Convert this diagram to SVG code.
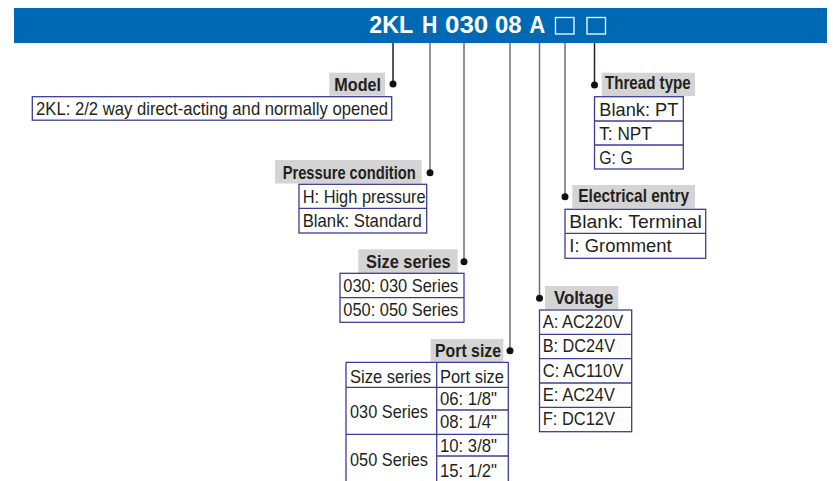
<svg xmlns="http://www.w3.org/2000/svg" width="833" height="481" viewBox="0 0 833 481">
<style>
.banner{fill:#0069b4}
.code{font-family:"Liberation Sans",Arial,sans-serif;font-weight:bold;font-size:23px;fill:#ffffff}
.lbl{fill:#d4d4d4}
.lt{font-family:"Liberation Sans",Arial,sans-serif;font-weight:bold;font-size:18.5px;fill:#231f20}
.vt{font-family:"Liberation Sans",Arial,sans-serif;font-size:19px;fill:#231f20}
.box{fill:#ffffff;stroke:#3c3c96;stroke-width:1.3}
.div{stroke:#3c3c96;stroke-width:1.3}
.ln{stroke:#6e6e6e;stroke-width:1.5;fill:none}
.lnd{stroke:#231f20;stroke-width:1.5;fill:none}
.dot{fill:#111111}
</style>
<rect class="banner" x="14" y="8" width="813" height="35"/>
<g id="code">
<text class="code" x="369.3" y="33" textLength="44" lengthAdjust="spacingAndGlyphs">2KL</text>
<text class="code" x="422" y="33" textLength="15.3" lengthAdjust="spacingAndGlyphs">H</text>
<text class="code" x="445" y="33" textLength="43.3" lengthAdjust="spacingAndGlyphs">030</text>
<text class="code" x="495" y="33" textLength="26.7" lengthAdjust="spacingAndGlyphs">08</text>
<text class="code" x="529.3" y="33" textLength="16" lengthAdjust="spacingAndGlyphs">A</text>
<rect x="555.5" y="17.5" width="18.5" height="16.5" fill="none" stroke="#ffffff" stroke-width="1.3"/>
<rect x="587" y="17.5" width="18.5" height="16.5" fill="none" stroke="#ffffff" stroke-width="1.3"/>
</g>
<g id="connectors">
<line class="lnd" x1="393" y1="43" x2="393" y2="84"/>
<circle class="dot" cx="393" cy="84" r="3.5"/>
<line class="ln" x1="430" y1="43" x2="430" y2="172.7"/>
<circle class="dot" cx="430" cy="172.7" r="3.5"/>
<line class="ln" x1="464" y1="43" x2="464" y2="261.7"/>
<circle class="dot" cx="464" cy="261.7" r="3.5"/>
<line class="ln" x1="510" y1="43" x2="510" y2="350.7"/>
<circle class="dot" cx="510" cy="350.7" r="3.5"/>
<line class="ln" x1="539.5" y1="43" x2="539.5" y2="298.3"/>
<circle class="dot" cx="539.5" cy="298.3" r="3.5"/>
<line class="ln" x1="565" y1="43" x2="565" y2="196.7"/>
<circle class="dot" cx="565" cy="196.7" r="3.5"/>
<line class="lnd" x1="594.5" y1="43" x2="594.5" y2="85"/>
<circle class="dot" cx="594.5" cy="85" r="3.5"/>
</g>
<g id="model">
<rect class="lbl" x="329.3" y="72.7" width="55.7" height="23"/>
<text class="lt" x="334.3" y="91" textLength="46.7" lengthAdjust="spacingAndGlyphs">Model</text>
<rect class="box" x="32.3" y="96.7" width="359.4" height="23.5"/>
<text class="vt" x="36" y="115" textLength="352" lengthAdjust="spacingAndGlyphs">2KL: 2/2 way direct-acting and normally opened</text>
</g>
<g id="pressure">
<rect class="lbl" x="275" y="160" width="146.7" height="23.5"/>
<text class="lt" x="282.7" y="179.3" textLength="133" lengthAdjust="spacingAndGlyphs">Pressure condition</text>
<rect class="box" x="299" y="184.3" width="127.7" height="48.7"/>
<line class="div" x1="299" y1="208.3" x2="426.7" y2="208.3"/>
<text class="vt" x="302.7" y="203.3" textLength="123" lengthAdjust="spacingAndGlyphs">H: High pressure</text>
<text class="vt" x="302.7" y="227" textLength="119" lengthAdjust="spacingAndGlyphs">Blank: Standard</text>
</g>
<g id="size">
<rect class="lbl" x="358.3" y="249.3" width="99.4" height="24"/>
<text class="lt" x="366" y="268.3" textLength="84.7" lengthAdjust="spacingAndGlyphs">Size series</text>
<rect class="box" x="340" y="273.3" width="124" height="49"/>
<line class="div" x1="340" y1="297.7" x2="464" y2="297.7"/>
<text class="vt" x="343.3" y="291.5" textLength="115" lengthAdjust="spacingAndGlyphs">030: 030 Series</text>
<text class="vt" x="343.3" y="316" textLength="115" lengthAdjust="spacingAndGlyphs">050: 050 Series</text>
</g>
<g id="port">
<rect class="lbl" x="430.7" y="339" width="72.6" height="23"/>
<text class="lt" x="435" y="357" textLength="66" lengthAdjust="spacingAndGlyphs">Port size</text>
<line class="div" x1="346" y1="362.3" x2="508.3" y2="362.3"/>
<line class="div" x1="346" y1="362.3" x2="346" y2="481"/>
<line class="div" x1="436.7" y1="362.3" x2="436.7" y2="481"/>
<line class="div" x1="508.3" y1="362.3" x2="508.3" y2="481"/>
<line class="div" x1="346" y1="387.3" x2="508.3" y2="387.3"/>
<line class="div" x1="436.7" y1="410" x2="508.3" y2="410"/>
<line class="div" x1="346" y1="434.3" x2="508.3" y2="434.3"/>
<line class="div" x1="436.7" y1="456" x2="508.3" y2="456"/>
<text class="vt" x="350" y="382.5" textLength="81" lengthAdjust="spacingAndGlyphs">Size series</text>
<text class="vt" x="440" y="382.5" textLength="64" lengthAdjust="spacingAndGlyphs">Port size</text>
<text class="vt" x="350" y="418" textLength="78" lengthAdjust="spacingAndGlyphs">030 Series</text>
<text class="vt" x="350" y="466" textLength="78" lengthAdjust="spacingAndGlyphs">050 Series</text>
<text class="vt" x="440" y="404.5" textLength="57" lengthAdjust="spacingAndGlyphs">06: 1/8"</text>
<text class="vt" x="440" y="428" textLength="57" lengthAdjust="spacingAndGlyphs">08: 1/4"</text>
<text class="vt" x="440" y="452" textLength="57" lengthAdjust="spacingAndGlyphs">10: 3/8"</text>
<text class="vt" x="440" y="477" textLength="57" lengthAdjust="spacingAndGlyphs">15: 1/2"</text>
</g>
<g id="voltage">
<rect class="lbl" x="545" y="286" width="73.3" height="23.3"/>
<text class="lt" x="554" y="303.5" textLength="59.3" lengthAdjust="spacingAndGlyphs">Voltage</text>
<rect class="box" x="539.5" y="310" width="92.2" height="121.7"/>
<line class="div" x1="539.5" y1="334.3" x2="631.7" y2="334.3"/>
<line class="div" x1="539.5" y1="358.6" x2="631.7" y2="358.6"/>
<line class="div" x1="539.5" y1="383" x2="631.7" y2="383"/>
<line class="div" x1="539.5" y1="407.3" x2="631.7" y2="407.3"/>
<text class="vt" x="542.7" y="328" textLength="80.6" lengthAdjust="spacingAndGlyphs">A: AC220V</text>
<text class="vt" x="542.7" y="352.3" textLength="72.3" lengthAdjust="spacingAndGlyphs">B: DC24V</text>
<text class="vt" x="542.7" y="376.6" textLength="80.6" lengthAdjust="spacingAndGlyphs">C: AC110V</text>
<text class="vt" x="542.7" y="400.9" textLength="72.3" lengthAdjust="spacingAndGlyphs">E: AC24V</text>
<text class="vt" x="542.7" y="425.2" textLength="72.3" lengthAdjust="spacingAndGlyphs">F: DC12V</text>
</g>
<g id="thread">
<rect class="lbl" x="601.7" y="72.7" width="93.3" height="23.3"/>
<text class="lt" x="605" y="89" textLength="85.7" lengthAdjust="spacingAndGlyphs">Thread type</text>
<rect class="box" x="594.5" y="96.7" width="88.8" height="72.3"/>
<line class="div" x1="594.5" y1="121" x2="683.3" y2="121"/>
<line class="div" x1="594.5" y1="145" x2="683.3" y2="145"/>
<text class="vt" x="599.3" y="115.5" textLength="79" lengthAdjust="spacingAndGlyphs">Blank: PT</text>
<text class="vt" x="599.3" y="139.5" textLength="52.4" lengthAdjust="spacingAndGlyphs">T: NPT</text>
<text class="vt" x="599.3" y="163.5" textLength="33.4" lengthAdjust="spacingAndGlyphs">G: G</text>
</g>
<g id="electrical">
<rect class="lbl" x="572.3" y="185" width="122.7" height="23.3"/>
<text class="lt" x="578.3" y="202" textLength="110.7" lengthAdjust="spacingAndGlyphs">Electrical entry</text>
<rect class="box" x="565" y="209.3" width="140.7" height="49"/>
<line class="div" x1="565" y1="233.3" x2="705.7" y2="233.3"/>
<text class="vt" x="569.3" y="228" textLength="132.4" lengthAdjust="spacingAndGlyphs">Blank: Terminal</text>
<text class="vt" x="569.3" y="252" textLength="102.4" lengthAdjust="spacingAndGlyphs">I: Gromment</text>
</g>
</svg>
